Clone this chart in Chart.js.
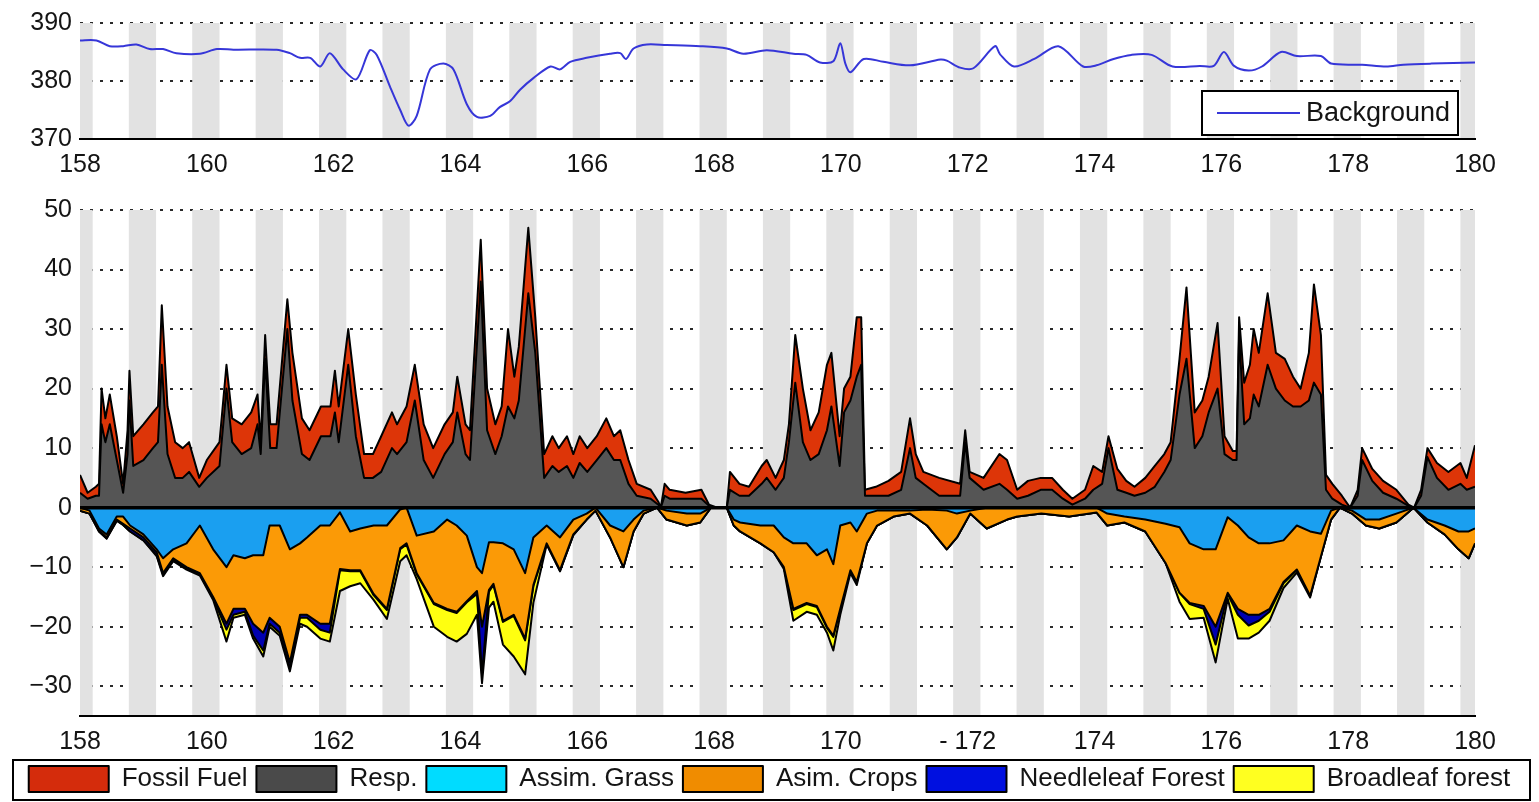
<!DOCTYPE html>
<html>
<head>
<meta charset="utf-8">
<title>CO2 background and flux components</title>
<script src="https://cdn.jsdelivr.net/npm/chart.js@4.4.1/dist/chart.umd.min.js"></script>
<style>
	html, body { margin: 0; padding: 0; background: #fff; }
	body { width: 1539px; height: 802px; position: relative; overflow: hidden; }
	.panel { position: absolute; left: 0; width: 1539px; }
	#bg-wrap   { top: 0;     height: 180px; }
	#flux-wrap { top: 185px; height: 617px; }
</style>
</head>
<body>
<div class="panel" id="bg-wrap"><canvas id="bg"></canvas></div>
<div class="panel" id="flux-wrap"><canvas id="flux"></canvas></div>
<script>
// Day-of-year axis
const DAY_MIN        = 158;
const DAY_MAX        = 180;
const X_TICKS        = [158, 160, 162, 164, 166, 168, 170, 172, 174, 176, 178, 180];
const X_LABELS_TOP   = ['158', '160', '162', '164', '166', '168', '170', '172', '174', '176', '178', '180'];
const X_LABELS_FLUX  = ['158', '160', '162', '164', '166', '168', '170', '- 172', '174', '176', '178', '180'];
const BG_TICKS       = [370, 380, 390];
const FLUX_TICKS     = [-30, -20, -10, 0, 10, 20, 30, 40, 50];

// Night periods (shaded)
const NIGHT_BANDS = [
	[157.77, 158.2], [158.77, 159.2], [159.77, 160.2], [160.77, 161.2], [161.77, 162.2],
	[162.77, 163.2], [163.77, 164.2], [164.77, 165.2], [165.77, 166.2], [166.77, 167.2],
	[167.77, 168.2], [168.77, 169.2], [169.77, 170.2], [170.77, 171.2], [171.77, 172.2],
	[172.77, 173.2], [173.77, 174.2], [174.77, 175.2], [175.77, 176.2], [176.77, 177.2],
	[177.77, 178.2], [178.77, 179.2], [179.77, 180.2]
];

// Background CO2 (ppm)
const BG_DAYS = [
	158.00, 158.26, 158.47, 158.68, 158.89, 159.10, 159.31, 159.52, 159.89, 160.16,
	160.42, 161.10, 161.31, 161.47, 161.63, 161.79, 161.94, 162.15, 162.36, 162.57,
	162.68, 162.89, 163.05, 163.18, 163.31, 163.52, 163.73, 163.89, 164.10, 164.26,
	164.47, 164.62, 164.78, 164.94, 165.15, 165.42, 165.57, 165.73, 165.99, 166.36,
	166.52, 166.61, 166.73, 166.94, 167.25, 167.78, 168.20, 168.46, 168.83, 169.25,
	169.46, 169.67, 169.88, 169.99, 170.07, 170.15, 170.36, 170.67, 171.09, 171.57,
	171.67, 171.88, 172.09, 172.43, 172.51, 172.73, 173.05, 173.43, 173.82, 174.03,
	174.30, 174.58, 174.90, 175.23, 175.66, 175.88, 176.04, 176.20, 176.43, 176.64,
	176.94, 177.19, 177.57, 177.73, 178.22, 178.60, 178.87, 179.31, 180.00
];
const BG_CO2 = [
	387.0, 387.0, 386.0, 386.0, 386.3, 385.5, 385.5, 384.8, 384.7, 385.5,
	385.4, 385.4, 384.8, 384.0, 384.0, 382.5, 384.8, 382.0, 380.3, 385.3,
	384.5, 379.0, 375.0, 372.3, 374.0, 382.0, 383.0, 382.0, 376.0, 373.8,
	374.0, 375.5, 376.5, 378.5, 380.5, 382.5, 382.0, 383.3, 384.0, 384.7,
	384.8, 383.8, 385.6, 386.3, 386.2, 386.0, 385.6, 384.7, 385.3, 384.7,
	384.5, 383.2, 383.4, 386.5, 383.0, 381.5, 383.8, 383.3, 382.7, 383.7,
	383.5, 382.3, 382.2, 386.0, 384.6, 382.5, 383.8, 386.0, 382.5, 382.7,
	383.8, 384.5, 384.5, 382.5, 382.6, 382.6, 385.0, 382.6, 381.8, 382.5,
	385.0, 384.3, 384.3, 383.0, 382.8, 382.5, 382.8, 383.0, 383.2
];

// Sources (positive flux)
const POS_DAYS = [
	158.00, 158.12, 158.25, 158.30, 158.34, 158.40, 158.47, 158.58, 158.68, 158.75,
	158.78, 158.84, 159.00, 159.15, 159.23, 159.29, 159.38, 159.50, 159.62, 159.72,
	159.88, 160.00, 160.20, 160.31, 160.40, 160.55, 160.70, 160.80, 160.85, 160.92,
	161.00, 161.10, 161.27, 161.35, 161.50, 161.62, 161.80, 161.95, 162.02, 162.08,
	162.23, 162.35, 162.48, 162.62, 162.75, 162.92, 163.00, 163.15, 163.28, 163.42,
	163.57, 163.75, 163.88, 163.95, 164.08, 164.15, 164.32, 164.42, 164.55, 164.65,
	164.75, 164.85, 164.92, 165.07, 165.18, 165.32, 165.45, 165.55, 165.68, 165.78,
	165.88, 166.00, 166.15, 166.30, 166.42, 166.52, 166.65, 166.78, 167.00, 167.12,
	167.16, 167.22, 167.30, 167.55, 167.80, 167.92, 168.05, 168.20, 168.25, 168.40,
	168.55, 168.75, 168.83, 168.97, 169.10, 169.18, 169.28, 169.40, 169.52, 169.65,
	169.78, 169.85, 169.98, 170.05, 170.15, 170.25, 170.32, 170.38, 170.55, 170.75,
	170.95, 171.09, 171.18, 171.30, 171.55, 171.88, 171.96, 172.03, 172.25, 172.50,
	172.62, 172.78, 172.95, 173.15, 173.33, 173.50, 173.65, 173.85, 173.98, 174.12,
	174.22, 174.36, 174.50, 174.63, 174.80, 174.95, 175.10, 175.20, 175.34, 175.45,
	175.58, 175.70, 175.80, 175.94, 176.05, 176.18, 176.24, 176.28, 176.36, 176.45,
	176.51, 176.59, 176.73, 176.86, 177.00, 177.13, 177.25, 177.38, 177.46, 177.57,
	177.65, 177.75, 177.90, 178.03, 178.15, 178.22, 178.38, 178.55, 178.76, 178.95,
	179.04, 179.15, 179.25, 179.40, 179.58, 179.77, 179.87, 180.00
];
const RESP = [
	2.5, 1.5, 2, 2, 14, 11, 14, 8, 2.5, 9,
	18, 7, 8, 10, 11, 24, 9, 5, 5, 6,
	3.5, 5, 7, 20, 11, 9, 10, 14, 9, 25,
	10, 10, 30, 18, 9, 8, 12, 12, 16, 11,
	24, 12, 5, 5, 6, 10, 9, 11, 18, 8,
	5, 9, 11, 16, 9, 8, 38, 13, 9, 12,
	17, 15, 18, 36, 26, 5, 7, 6, 7, 5,
	7.5, 6, 8, 10, 8, 8, 4, 2, 1.5, 0.5,
	0, 2, 1.5, 1.5, 1.5, 0.3, 0, 0, 3, 2,
	2, 4, 5, 3, 5, 11, 21, 11, 8, 9,
	13, 17, 7, 16, 18, 22, 24, 2, 2, 2,
	3, 10, 5, 4, 2, 2, 11, 5, 3, 4,
	3, 1.5, 2, 3, 3, 1.5, 0.5, 1.5, 3, 4,
	10, 3, 2.5, 2, 2.5, 3.5, 6, 8, 19, 25,
	10, 12, 16, 20, 9, 8, 8, 29, 14, 15,
	19, 17, 24, 20, 18, 17, 17, 18, 21, 19,
	3, 1.5, 0.5, 0, 2, 8, 4.5, 2.5, 1.5, 0.3,
	0, 2, 8.5, 5, 3, 4, 3, 3.5
];
const FOSSIL = [
	3, 1, 1.5, 2, 6, 4, 5, 4, 1.5, 4,
	5, 5, 6, 6, 6, 10, 8, 6, 5, 5,
	1.5, 3, 4, 4, 4, 5, 6, 5, 2, 4,
	4, 4, 5, 8, 6, 5, 5, 5, 7, 6,
	6, 7, 4, 4, 6, 6, 5, 6, 6, 6,
	5, 5, 5, 6, 5, 5, 7, 7, 5, 5,
	13, 7, 9, 11, 6, 4, 5, 4, 5, 4,
	4.5, 4, 4, 5, 4, 5, 4, 2, 1.5, 0.5,
	0, 2, 1.5, 1, 1.5, 0.2, 0, 0, 3, 2,
	1.5, 3, 3, 2, 3, 3, 8, 9, 5, 7,
	11, 9, 5, 4, 4, 10, 8, 1, 1.5, 2.5,
	3, 5, 4, 2, 3, 2, 2, 1, 2, 5,
	5, 1.5, 2.5, 2, 2, 1.5, 1, 1.5, 4, 2,
	2, 3.5, 2, 1.5, 2.5, 3.5, 3, 3, 6, 12,
	6, 6, 6, 11, 3, 1.5, 1.5, 3, 7, 9,
	11, 9, 12, 6, 7, 5, 3, 8, 16.5, 10,
	2.5, 2.5, 1.5, 0, 1, 2, 2, 2, 1.5, 0.2,
	0, 1, 1.5, 2.5, 3, 3.5, 2, 7
];

// Sinks (negative flux)
const NEG_DAYS = [
	158.00, 158.15, 158.30, 158.42, 158.58, 158.68, 158.79, 159.00, 159.21, 159.31,
	159.47, 159.68, 159.89, 160.10, 160.31, 160.42, 160.60, 160.73, 160.89, 160.99,
	161.15, 161.31, 161.47, 161.58, 161.79, 161.94, 162.10, 162.26, 162.42, 162.63,
	162.84, 163.05, 163.15, 163.31, 163.58, 163.79, 163.94, 164.10, 164.26, 164.34,
	164.45, 164.52, 164.67, 164.84, 165.02, 165.15, 165.36, 165.57, 165.78, 165.99,
	166.13, 166.36, 166.57, 166.73, 166.89, 167.10, 167.25, 167.57, 167.78, 167.95,
	168.20, 168.31, 168.41, 168.73, 168.94, 169.10, 169.25, 169.46, 169.62, 169.78,
	169.88, 169.99, 170.15, 170.25, 170.41, 170.57, 170.83, 171.09, 171.36, 171.67,
	171.83, 172.04, 172.30, 172.62, 172.78, 173.16, 173.60, 174.03, 174.20, 174.47,
	174.80, 175.12, 175.34, 175.50, 175.72, 175.91, 176.10, 176.26, 176.43, 176.59,
	176.76, 176.98, 177.19, 177.40, 177.57, 177.73, 177.87, 178.06, 178.28, 178.49,
	178.76, 179.03, 179.25, 179.52, 179.74, 179.90, 180.00
];
const GRASS = [
	0, -0.5, -3.5, -4.5, -1.5, -1.5, -3, -4.5, -7, -8.5,
	-7, -6, -3, -7, -10, -8, -8.5, -8, -8, -3,
	-3, -7, -6, -5, -3, -3, -0.8, -4, -3.5, -3,
	-3, -0.3, 0, -4.7, -4, -2, -3, -4.7, -10, -11,
	-5.8, -5.8, -6, -7, -11, -5, -3, -5, -2, -1,
	0, -3, -4, -2, -0.5, 0, -0.5, -1, -1, 0,
	0, -2, -2.5, -3, -3, -5, -6, -6, -8, -7,
	-9.5, -3, -2.5, -4, -1, -0.5, -0.5, -0.5, -0.3, -0.5,
	-1, -0.5, 0, 0, 0, 0, 0, 0, -1, -1.5,
	-2, -2.7, -3.3, -6, -7, -7, -1.6, -3, -5, -6,
	-6, -5.5, -3, -4, -4.4, -0.5, 0, -0.5, -2, -2,
	-1, 0, -2, -3, -4, -4, -3.5
];
const CROPS = [
	-0.5, -0.5, -0.3, -0.5, -0.5, -1.2, -0.5, -0.5, -0.5, -2.5,
	-1.5, -4, -8, -8, -9.5, -9, -8.5, -11.5, -13, -15.5,
	-17, -19, -12, -13, -16.5, -16.5, -9.5, -6.5, -7, -11.5,
	-14, -6.5, -6, -6.3, -12, -15, -14.5, -11, -4, -9,
	-8, -7, -13, -11, -11, -8, -3, -5.5, -2.5, -1,
	-0.5, -2, -6, -2, -0.5, 0, -1.5, -2, -1.5, 0,
	0, -1, -1.5, -3, -4.5, -5, -11, -10, -8.5, -13,
	-12, -14, -8, -8.5, -5, -2.5, -1, -0.5, -2.7, -6.5,
	-4, -0.5, -3.5, -2, -1.5, -1, -1.5, -0.8, -2, -1,
	-2, -6.6, -11, -10, -9.5, -13, -12.7, -14, -13, -12,
	-11, -7, -7.4, -10.8, -3.8, -1.5, 0, -0.5, -1, -1.5,
	-1.5, 0, -0.5, -1.5, -3, -4.5, -2.5
];
const NEEDLELEAF = [
	0, 0, -0.2, -0.2, -0.2, -0.2, -0.5, -0.5, -0.5, -0.3,
	-0.3, -0.2, -0.2, -0.3, -1, -1, -0.5, -2, -3, -1,
	-1, -1, -0.5, -0.5, -1, -1.5, -0.2, -0.2, -0.2, -0.2,
	-0.2, -0.2, -0.2, -0.2, -0.2, -0.2, -0.2, -0.2, -0.5, -8,
	-0.3, -0.2, -0.2, -0.2, -0.3, -0.2, -0.1, -0.1, -0.1, 0,
	0, 0, 0, 0, 0, 0, 0, 0, 0, 0,
	0, 0, 0, 0, 0, 0, -0.2, -0.2, -0.2, -0.2,
	-0.2, -0.1, -0.1, -0.1, 0, 0, 0, 0, 0, 0,
	0, 0, 0, 0, 0, 0, 0, 0, 0, 0,
	0, 0, 0, -0.2, -0.5, -3, -0.2, -1, -1.8, -1,
	-0.5, -0.2, -0.1, 0, 0, 0, 0, 0, 0, 0,
	0, 0, 0, 0, 0, 0, 0
];
const BROADLEAF = [
	0, 0, 0, 0, 0, 0, 0, 0, -0.2, -0.2,
	-0.2, -0.2, -0.2, -0.2, -2, -0.5, -0.5, -0.5, -1, -0.5,
	-0.5, -0.5, -1, -1.5, -1.5, -1.5, -3.5, -2.5, -2, -0.8,
	-1.5, -2, -1.8, -0.8, -3.8, -4.5, -4.8, -5.3, -3.5, -1.5,
	-2.7, -2.8, -3.8, -6.8, -5.7, -2.8, -0.1, -0.1, 0, 0,
	0, 0, 0, 0, 0, 0, 0, 0, 0, 0,
	0, 0, 0, 0, 0, -0.3, -1.8, -1.3, -1.3, -0.8,
	-2.3, -0.9, -0.4, -0.4, 0, 0, 0, 0, 0, 0,
	0, 0, 0, 0, 0, 0, 0, 0, 0, 0,
	0, 0, -1.5, -2.5, -1.5, -3, -0.8, -4, -2.2, -2,
	-1.5, -0.8, -0.4, -0.3, 0, 0, 0, 0, 0, 0,
	0, 0, 0, 0, 0, 0, 0
];

const LEGEND_ORDER = ['Fossil Fuel', 'Resp.', 'Assim. Grass', 'Asim. Crops', 'Needleleaf Forest', 'Broadleaf forest'];

const TEXT  = '#141414';
const FONT  = { family: '"Liberation Sans", Arial, Helvetica, sans-serif', size: 25 };
const GRID  = '#2a2a2a';
const NIGHT = '#e2e2e2';

const xy = (days, vals) => days.map((d, i) => ({ x: d, y: vals[i] }));

// Shade the night periods under the data, over the grid
const nightBands = {
	id: 'nightBands',
	beforeDatasetsDraw(chart) {
		const { ctx, chartArea: a, scales: { x } } = chart;
		ctx.save();
		ctx.fillStyle = NIGHT;
		NIGHT_BANDS.forEach(([s, e]) => {
			const x1 = x.getPixelForValue(Math.max(s, DAY_MIN));
			const x2 = x.getPixelForValue(Math.min(e, DAY_MAX));
			if (x2 > x1) ctx.fillRect(x1, a.top, x2 - x1, a.bottom - a.top - 1);
		});
		ctx.restore();
	}
};

// Heavy line along zero flux
const zeroLine = {
	id: 'zeroLine',
	afterDatasetsDraw(chart) {
		const { ctx, chartArea: a, scales: { y } } = chart;
		const y0 = y.getPixelForValue(0);
		ctx.save();
		ctx.strokeStyle = '#000';
		ctx.lineWidth = 3.5;
		ctx.beginPath();
		ctx.moveTo(a.left, y0);
		ctx.lineTo(a.right, y0);
		ctx.stroke();
		ctx.restore();
	}
};

// Boxed key in the lower right of the CO2 panel
const backgroundKey = {
	id: 'backgroundKey',
	afterDraw(chart) {
		const { ctx, chartArea: a } = chart;
		const ds = chart.data.datasets[0];
		const w = 256, h = 44;
		const x = a.right - 17 - w, y = a.bottom - 4 - h;
		ctx.save();
		ctx.fillStyle = '#fff';
		ctx.fillRect(x, y, w, h);
		ctx.lineWidth = 2;
		ctx.strokeStyle = '#000';
		ctx.strokeRect(x, y, w, h);
		ctx.strokeStyle = ds.borderColor;
		ctx.lineWidth = ds.borderWidth;
		ctx.beginPath();
		ctx.moveTo(x + 15, y + h / 2);
		ctx.lineTo(x + 98, y + h / 2);
		ctx.stroke();
		ctx.fillStyle = TEXT;
		ctx.font = `27px ${FONT.family}`;
		ctx.textBaseline = 'middle';
		ctx.fillText(ds.label, x + 104, y + h / 2 + 1);
		ctx.restore();
	}
};

// Frame around the bottom legend row
const legendFrame = {
	id: 'legendFrame',
	afterDraw(chart) {
		const boxes = chart.legend && chart.legend.legendHitBoxes;
		if (!boxes || !boxes.length) return;
		const top = Math.min(...boxes.map(b => b.top));
		const { ctx } = chart;
		ctx.save();
		ctx.strokeStyle = '#000';
		ctx.lineWidth = 2;
		ctx.strokeRect(13, top - 6, chart.width - 22, 40);
		ctx.restore();
	}
};

function xAxis(labels) {
	return {
		type: 'linear',
		min: DAY_MIN,
		max: DAY_MAX,
		afterBuildTicks: s => { s.ticks = X_TICKS.map(v => ({ value: v })); },
		afterFit: s => { s.height = 41; },
		grid: { display: false, drawTicks: false },
		border: { display: true, color: '#000', width: 2 },
		ticks: {
			padding: 11, color: TEXT, font: FONT, maxRotation: 0, autoSkip: false,
			callback: (v, i) => labels[i]
		}
	};
}

function yAxis(min, max, ticks, stacked) {
	return {
		min, max, stacked,
		afterBuildTicks: s => { s.ticks = ticks.map(v => ({ value: v })); },
		afterFit: s => { s.width = 80; },
		grid: {
			drawTicks: false,
			lineWidth: 2,
			color: c => (c.tick && (c.tick.value === min || c.tick.value === 0)) ? 'rgba(0,0,0,0)' : GRID
		},
		border: { display: false, dash: [3, 7] },
		ticks: {
			padding: 8, color: TEXT, font: FONT,
			callback: v => v < 0 ? '\u2212' + Math.abs(v) : String(v)
		}
	};
}

// Top panel: background CO2
new Chart(document.getElementById('bg'), {
	type: 'line',
	data: { datasets: [{
		label: 'Background',
		data: xy(BG_DAYS, BG_CO2),
		borderColor: '#3636d8',
		borderWidth: 2,
		pointRadius: 0,
		tension: 0.3,
		fill: false
	}]},
	options: {
		responsive: true,
		maintainAspectRatio: false,
		animation: false,
		layout: { padding: { top: 19, right: 64, left: 0, bottom: 0 } },
		plugins: { legend: { display: false }, tooltip: { enabled: false } },
		scales: {
			x: xAxis(X_LABELS_TOP),
			y: yAxis(370, 390, BG_TICKS, false)
		}
	},
	plugins: [nightBands, backgroundKey]
});

// Bottom panel: stacked flux components
const layer = (label, days, vals, color, legendColor, stack, fill) => ({
	label,
	data: xy(days, vals),
	backgroundColor: color,
	legendColor,
	borderColor: '#000',
	borderWidth: 2,
	borderJoinStyle: 'round',
	pointRadius: 0,
	tension: 0,
	stack,
	fill
});

new Chart(document.getElementById('flux'), {
	type: 'line',
	data: { datasets: [
		layer('Resp.',             POS_DAYS, RESP,       '#555555', '#4a4a4a', 'src',  'origin'),
		layer('Fossil Fuel',       POS_DAYS, FOSSIL,     '#dd3508', '#d42c0c', 'src',  '-1'),
		layer('Assim. Grass',      NEG_DAYS, GRASS,      '#1a9ff0', '#00dcff', 'sink', 'origin'),
		layer('Asim. Crops',       NEG_DAYS, CROPS,      '#fb9a06', '#f08c00', 'sink', '-1'),
		layer('Needleleaf Forest', NEG_DAYS, NEEDLELEAF, '#0000b0', '#0010e0', 'sink', '-1'),
		layer('Broadleaf forest',  NEG_DAYS, BROADLEAF,  '#ffff10', '#ffff20', 'sink', '-1')
	]},
	options: {
		responsive: true,
		maintainAspectRatio: false,
		animation: false,
		layout: { padding: { top: 25, right: 0, left: 0, bottom: 0 } },
		plugins: {
			tooltip: { enabled: false },
			legend: {
				position: 'bottom',
				onClick: null,
				labels: {
					boxWidth: 80,
					boxHeight: 26,
					padding: 9,
					color: TEXT,
					font: { family: FONT.family, size: 26 },
					sort: (a, b) => LEGEND_ORDER.indexOf(a.text) - LEGEND_ORDER.indexOf(b.text),
					generateLabels: chart => Chart.defaults.plugins.legend.labels.generateLabels(chart).map(it => {
						it.fillStyle = chart.data.datasets[it.datasetIndex].legendColor;
						it.strokeStyle = '#000';
						it.lineWidth = 2;
						return it;
					})
				}
			}
		},
		scales: {
			x: xAxis(X_LABELS_FLUX),
			y: yAxis(-35, 50, FLUX_TICKS, true),
			// keeps the plot's right edge in line with the panel above
			spacer: {
				position: 'right',
				display: true,
				afterFit: s => { s.width = 64; },
				grid: { display: false, drawTicks: false },
				border: { display: false },
				ticks: { display: false }
			}
		}
	},
	plugins: [nightBands, zeroLine, legendFrame]
});
</script>
</body>
</html>
